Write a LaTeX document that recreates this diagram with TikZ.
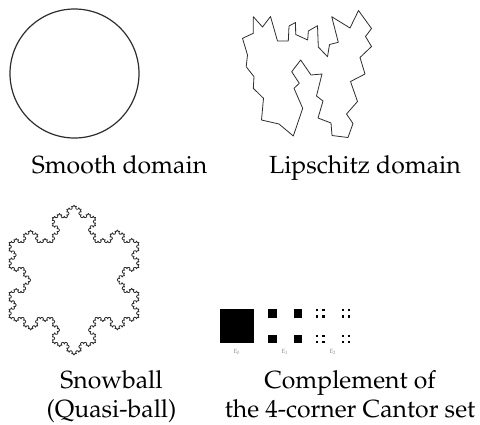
\documentclass[tikz,border=0pt]{standalone}
\usepackage[T1]{fontenc}
\usepackage{mathpazo}
\usetikzlibrary{decorations.fractals}
\definecolor{inkgray}{RGB}{45,45,45}
\definecolor{labelgray}{RGB}{140,140,140}

\begin{document}
\begin{tikzpicture}[x=0.5pt,y=-0.5pt,
    font=\fontsize{12.4}{14.5}\selectfont,
    outline/.style={draw=inkgray, line width=0.4pt, line join=round},
    caption/.style={align=center, anchor=base, inner sep=0pt},
    elabel/.style={text=labelgray, font=\fontsize{3}{3}\selectfont, inner sep=0pt}]
\useasboundingbox (0,0) rectangle (480,424);

% smooth domain
\node[draw=inkgray, line width=0.6pt, circle, minimum size=64.5pt, inner sep=0pt] (smooth) at (74.5,73.5) {};
\node[caption] (smoothcap) at (119.5,173) {Smooth domain};

% Lipschitz domain
\draw[outline] (300.7,60) -- (311,75) -- (322,74) -- (316.5,96) -- (323,101) -- (318,118)
  -- (331,123) -- (332,135.5) -- (348,137.5) -- (353,123.5) -- (346.5,114) -- (357.5,101.5)
  -- (350.5,81.5) -- (365,74) -- (360,57.5) -- (371.5,46.5) -- (365.5,36.5) -- (371.5,28.5)
  -- (358.5,10.5) -- (350,28) -- (331.7,16.7) -- (338.3,42.3) -- (329.5,44.5) -- (327.5,56.7)
  -- (318.3,47) -- (317.5,25.7) -- (308.3,31) -- (307.7,40) -- (295.7,34.5) -- (295.5,22.5)
  -- (289,26) -- (288.3,41) -- (277.5,41) -- (270.5,16.5) -- (262.5,27) -- (253.3,16.7)
  -- (253.3,33.3) -- (242.5,38.3) -- (247.5,55) -- (246.2,66.7) -- (254,76.7) -- (253.3,88.3)
  -- (263.5,98.3) -- (261.5,120) -- (279,124) -- (293.3,136) -- (302.7,108.3) -- (294,88.3)
  -- (299.3,83.3) -- (291.7,71.7) -- cycle;
\node[caption] (lipcap) at (365,173) {Lipschitz domain};

% snowball
\draw[outline, decoration=Koch snowflake]
  decorate{decorate{decorate{decorate{(74,205) -- (139,317.5) -- (9,317.5) -- (74,205)}}}};
\node[caption] (snowcap) at (111.5,417) {Snowball\\(Quasi-ball)};

% 4-corner Cantor set
\fill (220,309) rectangle ++(34,34);
\foreach \i in {0,1}
  \foreach \j in {0,1}
    \fill (268+25.5*\i,309+25.5*\j) rectangle ++(8.5,8.5);
\foreach \i in {0,1}
  \foreach \j in {0,1}
    \foreach \k in {0,1}
      \foreach \l in {0,1}
        \fill (316+25.5*\i+6.375*\k,309+25.5*\j+6.375*\l) rectangle ++(2.125,2.125);
\node[elabel] (e0) at (237,352) {E$_0$};
\node[elabel] (e1) at (285,352) {E$_1$};
\node[elabel] (e2) at (333,352) {E$_2$};
\node[caption] (cantorcap) at (350,417) {Complement of\\the 4-corner Cantor set};
\end{tikzpicture}
\end{document}
